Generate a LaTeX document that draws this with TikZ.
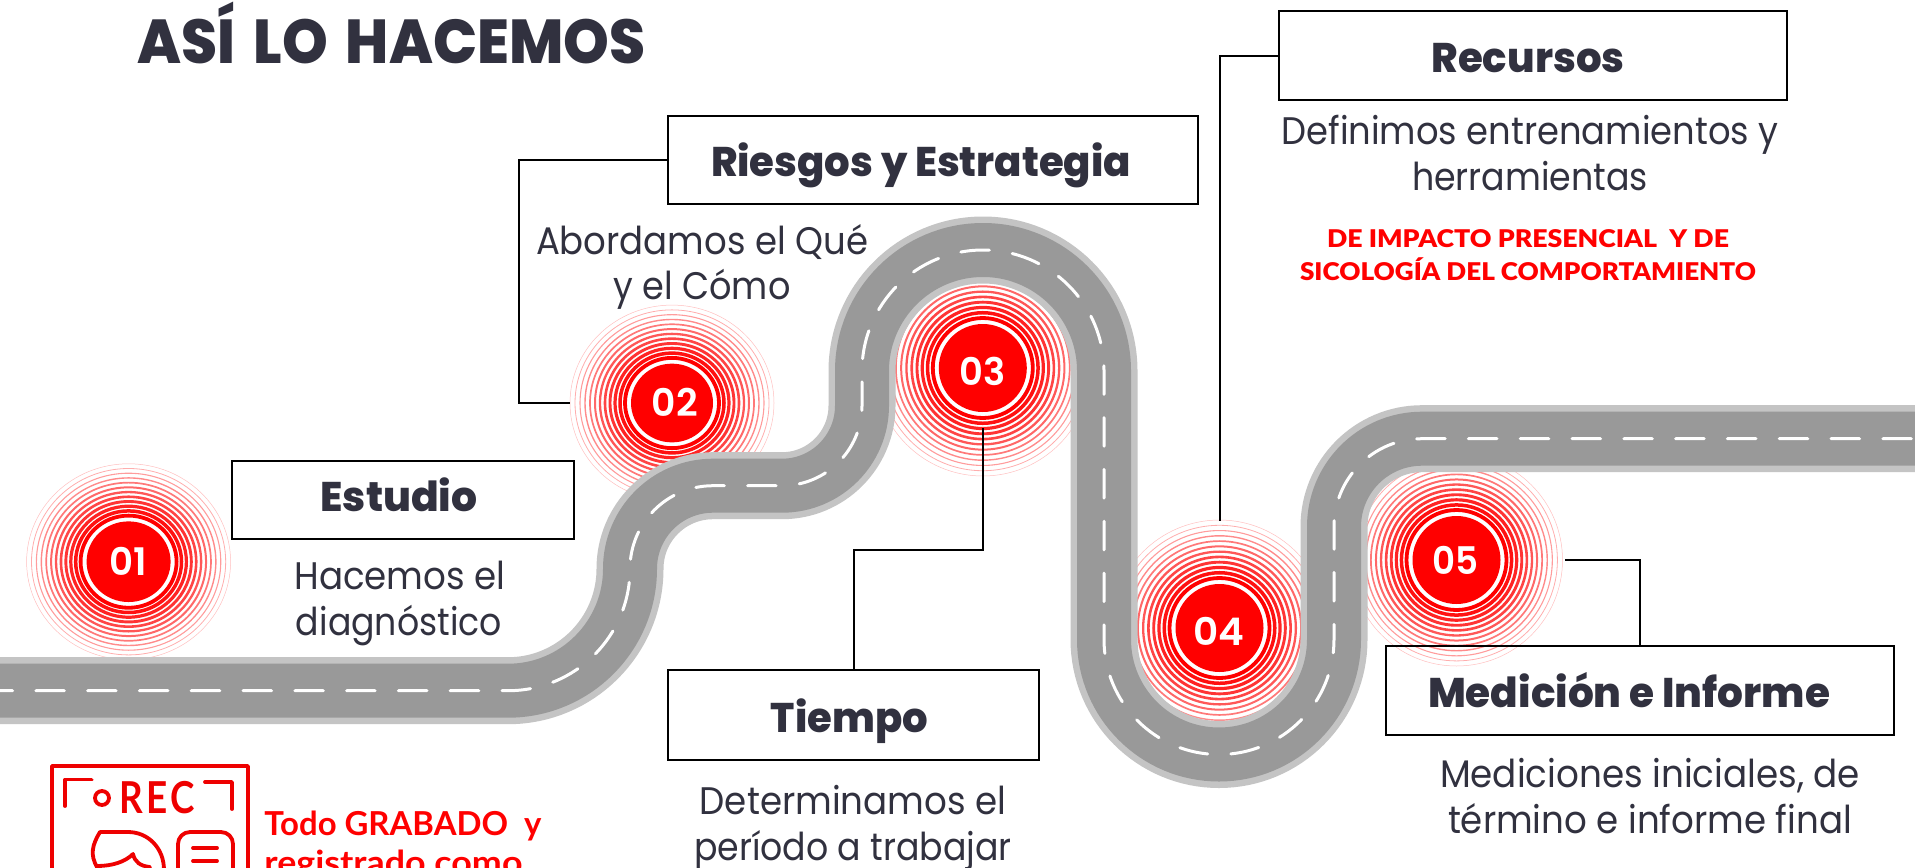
\documentclass[tikz,border=0pt]{standalone}
\usepackage{graphicx}
\usepackage{fontspec}
\setmainfont{Lato}
\newfontfamily\lblack{Lato Black}
\newfontfamily\pbody{Poppins}
\newfontfamily\pxbold{Poppins ExtraBold}
\newfontfamily\psemi{Poppins SemiBold}
\newfontfamily\recfont[LetterSpace=10]{Lato}
\definecolor{ink}{HTML}{31313F}
\definecolor{roadgray}{HTML}{999999}
\definecolor{shoulder}{HTML}{C4C4C4}
\definecolor{iconred}{HTML}{EE0000}
\newcommand\ft[2]{\resizebox{\dimexpr#1pt*1/2\relax}{\height}{#2}}
% rings: name, x, y, x-scale, y-scale, outer radius, disc radius
\newcommand\rings[7]{%
  \begin{scope}[shift={(#2,#3)},xscale=#4,yscale=#5]
    \foreach \i in {0,...,11}{
      \pgfmathsetmacro\rr{#7+6+\i*(#6-#7-6)/11}
      \pgfmathsetmacro\lw{1.9-\i*0.15}
      \pgfmathsetmacro\op{1-\i*0.068}
      \draw[red,opacity=\op,line width=\lw pt] (0,0) circle[radius=\rr];
    }
    \fill[red] (0,0) circle[radius=#7];
  \end{scope}
  \node[ringnode,minimum size=#6 pt] (#1) at (#2,#3) {};
}
\tikzset{
  ringnode/.style={circle,inner sep=0pt,outer sep=0pt,draw=none},
  box/.style={draw=black,line width=1pt,inner sep=0pt,outer sep=0pt},
  link/.style={draw=black,line width=1pt},
  head/.style={inner sep=0pt,anchor=base,text=ink,font=\pxbold\fontsize{20.7}{24}\selectfont},
  body/.style={inner sep=0pt,anchor=base,text=ink,font=\pbody\fontsize{19.2}{23}\selectfont},
  redtxt/.style={inner sep=0pt,anchor=base,text=red,font=\lblack\fontsize{12.2}{14}\selectfont},
  num/.style={inner sep=0pt,anchor=base,text=white,font=\psemi\fontsize{19}{22}\selectfont},
  icon/.style={draw=iconred,line width=1.9pt,line cap=round,line join=round},
  roadpath/.style={line cap=butt},
}
\begin{document}
\begin{tikzpicture}[x=0.5pt,y=-0.5pt]
\path[use as bounding box] (0,0) rectangle (1915,867);
\clip (0,0) rectangle (1915,867);
\fill[white] (0,0) rectangle (1915,867);
% rings
\rings{r1}{128.6}{561.7}{1}{0.96}{102}{42}
\rings{r2}{672}{403}{1}{0.96}{102}{41}
\rings{r3}{982.8}{368}{1}{1}{108}{44}
\rings{r4}{1219.5}{628}{1}{1}{108}{44}
\rings{r5}{1456.5}{560}{1}{1}{106}{44}
% road
\def\roadline{(-2,690.7) -- (508,690.7) arc[start angle=90,end angle=0,radius=122]
  arc[start angle=180,end angle=270,radius=83] -- (782,485.7)
  arc[start angle=90,end angle=0,radius=80] -- (862,371)
  arc[start angle=180,end angle=360,radius=121] -- (1104,639.5)
  arc[start angle=180,end angle=0,radius=115] -- (1334,526.7)
  arc[start angle=180,end angle=270,radius=88] -- (1930,438.7)}
\draw[shoulder,line width=33.5pt,roadpath] \roadline;
\draw[roadgray,line width=27pt,roadpath] \roadline;
\draw[white,line width=1.5pt,dash pattern=on 14.3pt off 11.6pt,dash phase=7pt,line cap=round] \roadline;
% boxes
\node[box,minimum width=171pt,minimum height=39pt] (bE) at (402.5,500) {};
\node[box,minimum width=265pt,minimum height=44pt] (bR) at (933,160) {};
\node[box,minimum width=254pt,minimum height=44.5pt] (bS) at (1533,55.5) {};
\node[box,minimum width=185.5pt,minimum height=45pt] (bT) at (853.5,714.5) {};
\node[box,minimum width=254pt,minimum height=44.5pt] (bM) at (1639.5,690) {};
% connectors
\draw[link] (bR.west) -- ++(-149,0) |- (r2.west);
\draw[link] (bS.west) -- ++(-59.5,0) -- ++(0,465);
\draw[link] (bT.north) -- ++(0,-119.5) -| (982.8,428);
\draw[link] (bM.north) |- (1565,560);
% discs' numbers
\node[num] (n1) at (128,575) {\ft{37.5}{01}};
\node[num] (n2) at (674.7,416) {\ft{46}{02}};
\node[num] (n3) at (982.8,385.7) {\ft{46}{03}};
\node[num] (n4) at (1219,645) {\ft{51}{04}};
\node[num] (n5) at (1455.5,574) {\ft{46}{05}};
% title
\node[inner sep=0pt,anchor=base,text=ink,font=\pxbold\fontsize{31}{36}\selectfont] (title) at (391.5,63.5) {\ft{508}{ASÍ\hspace{0.12em} LO\hspace{0.12em} HACEMOS}};
% heads
\node[head] (h1) at (399,511.7) {\ft{157}{Estudio}};
\node[head] (h2) at (921,176) {\ft{420}{Riesgos y Estrategia}};
\node[head] (h3) at (1528,72) {\ft{193}{Recursos}};
\node[head] (h4) at (849.4,732) {\ft{157}{Tiempo}};
\node[head] (h5) at (1629,707.7) {\ft{402}{Medición e Informe}};
% bodies
\node[body] (t1a) at (400,589) {\ft{211}{Hacemos el}};
\node[body] (t1b) at (399,635) {\ft{206}{diagnóstico}};
\node[body] (t2a) at (702,254) {\ft{332}{Abordamos el Qué}};
\node[body] (t2b) at (702,299.5) {\ft{177}{y el Cómo}};
\node[body] (t3a) at (1530,144) {\ft{497}{Definimos entrenamientos y}};
\node[body] (t3b) at (1530,190.5) {\ft{236}{herramientas}};
\node[redtxt] (t3c) at (1528,247) {\ft{402}{DE IMPACTO PRESENCIAL\ \ Y DE}};
\node[redtxt] (t3d) at (1528,280) {\ft{456}{SICOLOGÍA DEL COMPORTAMIENTO}};
\node[body] (t4a) at (853,814) {\ft{306.5}{Determinamos el}};
\node[body] (t4b) at (853,860) {\ft{317.5}{período a trabajar}};
\node[body] (t5a) at (1650,787.7) {\ft{420}{Mediciones iniciales, de}};
\node[body] (t5b) at (1650,833) {\ft{404}{término e informe final}};
% icon
\draw[icon] (52,766) rectangle (248,900);
\draw[icon] (91.6,779.5) -- (65,779.5) -- (65,806);
\draw[icon] (205,782) -- (232,782) -- (232,809);
\draw[icon] (102,798) circle[radius=7];
\node[inner sep=0pt,anchor=base,text=iconred,font=\recfont\bfseries\fontsize{22}{26}\selectfont] (rec) at (157,813) {\ft{76}{REC}};
\draw[icon] (97,867) .. controls (90,855) and (92,845) .. (100,832) -- (128,832) .. controls (148,832) and (164,848) .. (164,870);
\draw[icon] (97,866) .. controls (112,866) and (125,862) .. (133,854) .. controls (135,862) and (140,866) .. (150,867);
\draw[icon,rounded corners=6pt] (178,880) -- (178,832) -- (233,832) -- (233,880);
\draw[icon] (193,848) -- (217,848);
\draw[icon] (193,861) -- (217,861);
% caption
\node[inner sep=0pt,anchor=base west,text=red,font=\bfseries\fontsize{16.5}{20}\selectfont] (c1) at (264,835) {\ft{277}{Todo {\lblack GRABADO}\ \ y}};
\node[inner sep=0pt,anchor=base west,text=red,font=\bfseries\fontsize{16.5}{20}\selectfont] (c2) at (264,874) {\ft{258}{registrado como}};
\end{tikzpicture}
\end{document}
